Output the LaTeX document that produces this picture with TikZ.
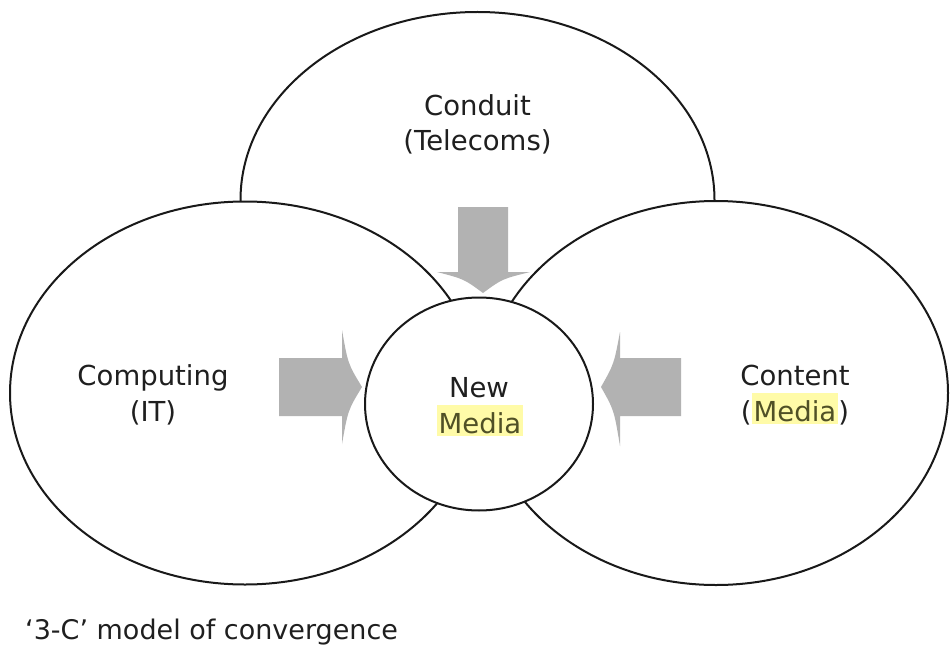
\documentclass[tikz,border=0pt]{standalone}
\usepackage{fontspec}
\setmainfont{DejaVu Sans}
\usetikzlibrary{shapes.geometric}

\definecolor{hlyellow}{HTML}{FFFBA8}
\definecolor{mediatext}{RGB}{80,80,38}
\definecolor{arrowgray}{RGB}{178,178,178}
\definecolor{inkline}{RGB}{25,25,25}

% yellow marker behind a word
\newcommand{\marked}[1]{{\setlength{\fboxsep}{0pt}\colorbox{hlyellow}{\rule[-2.5pt]{0pt}{31pt}\hspace{2pt}\textcolor{mediatext}{#1}\hspace{2pt}}}}

\tikzset{
  sphere/.style={ellipse, draw=inkline, line width=2pt, fill=white, inner sep=0pt},
  label/.style={anchor=base, text=black!88, inner sep=0pt,
    font=\fontsize{27.5}{34}\selectfont},
  flowarrow/.style={fill=arrowgray, draw=none},
}

\begin{document}
\begin{tikzpicture}[x=1pt, y=-1pt]
  \useasboundingbox (0,0) rectangle (950,650);

  % the three overlapping fields
  \node[sphere, minimum width=474pt, minimum height=376pt] (conduit) at (477.5,200) {};
  \node[sphere, minimum width=470pt, minimum height=383pt] (computing) at (245,393) {};
  \node[sphere, minimum width=464pt, minimum height=384pt] (content) at (716,393) {};

  % the convergence zone in the middle
  \node[sphere, minimum width=228pt, minimum height=213pt] (newmedia) at (479,404) {};

  % shaded arrows pointing into the middle
  \path[flowarrow] (279,358) -- (342,358) -- (342,330)
    .. controls (348,364) .. (362,387)
    .. controls (348,410) .. (342,444) -- (342,416) -- (279,416) -- cycle;
  \path[flowarrow] (681,358) -- (620,358) -- (620,332)
    .. controls (614,364) .. (601,387)
    .. controls (614,410) .. (620,446) -- (620,416) -- (681,416) -- cycle;
  \path[flowarrow] (458,207) -- (508,207) -- (508,272) -- (530,272)
    .. controls (502,279) .. (483,293)
    .. controls (464,279) .. (437,272) -- (458,272) -- cycle;

  % labels
  \node[label] (conduitA) at (477.5,116) {Conduit};
  \node[label] (conduitB) at (477.5,150) {(Telecoms)};
  \node[label] (computingA) at (153,385) {Computing};
  \node[label] (computingB) at (153,421) {(IT)};
  \node[label] (newA) at (479,397) {New};
  \node[label] (newB) at (480,433) {\marked{Media}};
  \node[label] (contentA) at (795,385) {Content};
  \node[label] (contentB) at (795,421) {(\marked{Media})};

  \node[label, anchor=base west, font=\fontsize{27}{32}\selectfont] (caption) at (25,639)
    {‘3-C’ model of convergence};
\end{tikzpicture}
\end{document}
